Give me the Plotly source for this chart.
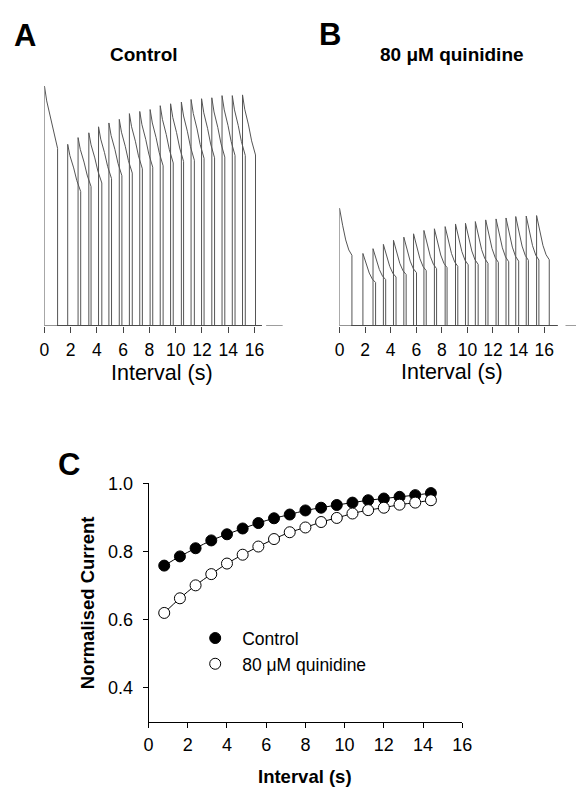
import plotly.graph_objects as go

W, H = 586, 787
FONT = "Liberation Sans, Arial, sans-serif"


def fx(p):
    return p / W


def fy(p):
    return 1 - p / H


# ---------------- Panels A / B : current traces (relative to control P1 peak) -------------
# Control (panel A)
ctrl_p1_peak = 1.0
ctrl_p1_duration = 1.0
ctrl_p2_start = [1.77, 2.56, 3.38, 4.12, 4.91, 5.70, 6.47, 7.26, 8.05,
                 8.82, 9.61, 10.43, 11.17, 11.97, 12.75, 13.53, 14.31, 15.09]
ctrl_p2_peak = [0.757, 0.785, 0.805, 0.830, 0.846, 0.861, 0.885, 0.894, 0.902,
                0.918, 0.926, 0.933, 0.944, 0.947, 0.951, 0.960, 0.960, 0.963]
ctrl_p2_duration = 0.99
ctrl_decay_time = [0.0, 0.17, 0.46, 0.70, 1.0]
ctrl_decay_frac = [1.0, 0.938, 0.870, 0.801, 0.74]
ctrl_sweep_end = 16.52
ctrl_tail = [16.89, 18.15]

# 80 uM quinidine (panel B)
quin_p1_peak = 0.491
quin_p1_duration = 0.97
quin_p2_start = [1.83, 2.62, 3.43, 4.22, 5.03, 5.79, 6.60, 7.42, 8.26,
                 9.07, 9.85, 10.62, 11.43, 12.24, 13.02, 13.78, 14.60, 15.41]
quin_p2_peak = [0.302, 0.322, 0.340, 0.357, 0.370, 0.384, 0.398, 0.405, 0.414,
                0.425, 0.428, 0.435, 0.442, 0.446, 0.450, 0.456, 0.458, 0.460]
quin_p2_duration = 0.99
quin_decay_time = [0.0, 0.25, 0.50, 0.75, 1.0]
quin_decay_frac = [1.0, 0.855, 0.730, 0.645, 0.60]
quin_sweep_end = 17.02
quin_tail = [17.67, 18.70]

trace_ticks = [0, 2, 4, 6, 8, 10, 12, 14, 16]

# ---------------- Panel C : normalised current ------------------------------------------
interval_s = [0.8, 1.6, 2.4, 3.2, 4.0, 4.8, 5.6, 6.4, 7.2,
              8.0, 8.8, 9.6, 10.4, 11.2, 12.0, 12.8, 13.6, 14.4]
control_norm = [0.758, 0.785, 0.809, 0.832, 0.850, 0.867, 0.883, 0.897, 0.908,
                0.920, 0.928, 0.936, 0.943, 0.950, 0.955, 0.960, 0.965, 0.971]
quinidine_norm = [0.619, 0.662, 0.700, 0.733, 0.764, 0.790, 0.814, 0.836, 0.856,
                  0.870, 0.886, 0.898, 0.911, 0.921, 0.928, 0.937, 0.943, 0.950]
c_xticks = [0, 2, 4, 6, 8, 10, 12, 14, 16]
c_yticks = [0.4, 0.6, 0.8, 1.0]


def pulse(t0, amp, dur, dtime, dfrac):
    xs = [t0] + [t0 + f * dur for f in dtime] + [t0 + dur]
    ys = [0.0] + [amp * f for f in dfrac] + [0.0]
    return xs, ys


def build_sweeps(p1_peak, p1_dur, starts, peaks, p2_dur, dtime, dfrac, end):
    # the conditioning pulse (P1) is identical in every sweep: draw it once
    xs, ys = pulse(0.0, p1_peak, p1_dur, dtime, dfrac)
    xs, ys = [0.0] + xs, [0.0] + ys
    xs.append(None)
    ys.append(None)
    for s, a in zip(starts, peaks):
        px_, py_ = pulse(s, a, p2_dur, dtime, dfrac)
        xs += [p1_dur] + px_ + [end, None]
        ys += [0.0] + py_ + [0.0, None]
    return xs, ys


fig = go.Figure()
TRACE_COL = "#555555"

ax, ay = build_sweeps(ctrl_p1_peak, ctrl_p1_duration, ctrl_p2_start, ctrl_p2_peak,
                      ctrl_p2_duration, ctrl_decay_time, ctrl_decay_frac, ctrl_sweep_end)
fig.add_trace(go.Scatter(x=ax + ctrl_tail, y=ay + [0, 0], mode="lines",
                         line=dict(color=TRACE_COL, width=1), showlegend=False,
                         xaxis="x", yaxis="y", hoverinfo="skip"))

bx, by = build_sweeps(quin_p1_peak, quin_p1_duration, quin_p2_start, quin_p2_peak,
                      quin_p2_duration, quin_decay_time, quin_decay_frac, quin_sweep_end)
fig.add_trace(go.Scatter(x=bx + quin_tail, y=by + [0, 0], mode="lines",
                         line=dict(color=TRACE_COL, width=1), showlegend=False,
                         xaxis="x2", yaxis="y2", hoverinfo="skip"))

# Panel C: fitted lines then markers
fig.add_trace(go.Scatter(x=interval_s, y=control_norm, mode="lines", line_shape="spline",
                         line=dict(color="black", width=1), showlegend=False,
                         xaxis="x3", yaxis="y3", hoverinfo="skip"))
fig.add_trace(go.Scatter(x=interval_s, y=quinidine_norm, mode="lines", line_shape="spline",
                         line=dict(color="black", width=1), showlegend=False,
                         xaxis="x3", yaxis="y3", hoverinfo="skip"))
fig.add_trace(go.Scatter(x=interval_s, y=control_norm, mode="markers", name="Control",
                         marker=dict(symbol="circle", size=11, color="black",
                                     line=dict(color="black", width=1)),
                         xaxis="x3", yaxis="y3"))
fig.add_trace(go.Scatter(x=interval_s, y=quinidine_norm, mode="markers", name="80 μM quinidine",
                         marker=dict(symbol="circle", size=11, color="white",
                                     line=dict(color="black", width=1)),
                         xaxis="x3", yaxis="y3"))

# axis geometry (pixels)
A_x0, A_scale = 40.5, 13.47
B_x0, B_scale = 343.3, 13.125
A_right, B_right = 290.0, 586.0
base_px, top_px = 320.0, 65.0
y_top_val = (base_px - top_px) / 243.0

trace_xaxis = dict(showgrid=False, zeroline=False, showline=False, ticks="outside",
                   ticklen=6, tickwidth=1, tickcolor="#444", tickvals=trace_ticks,
                   tickfont=dict(family=FONT, size=17.5, color="black"),
                   ticklabelstandoff=2, fixedrange=True)
trace_yaxis = dict(showgrid=False, zeroline=False, showline=False, showticklabels=False,
                   ticks="", range=[0, y_top_val], domain=[fy(base_px), fy(top_px)])

fig.update_layout(
    width=W, height=H, margin=dict(l=0, r=0, t=0, b=0),
    paper_bgcolor="white", plot_bgcolor="white",
    font=dict(family=FONT, color="black"),
    xaxis=dict(trace_xaxis, domain=[fx(A_x0), fx(A_right)],
               range=[0, (A_right - A_x0) / A_scale], anchor="y"),
    yaxis=dict(trace_yaxis, anchor="x"),
    xaxis2=dict(trace_xaxis, domain=[fx(B_x0), fx(B_right)],
                range=[0, (B_right - B_x0) / B_scale], anchor="y2"),
    yaxis2=dict(trace_yaxis, anchor="x2"),
    xaxis3=dict(domain=[fx(147.3), fx(469.3)], range=[0, 16], anchor="y3",
                showgrid=False, zeroline=False, showline=True, linecolor="black", linewidth=1,
                ticks="outside", ticklen=5, tickcolor="black", tickvals=c_xticks,
                tickfont=dict(family=FONT, size=18), ticklabelstandoff=2),
    yaxis3=dict(domain=[fy(720.7), fy(479.3)], range=[0.3, 1.0], anchor="x3",
                showgrid=False, zeroline=False, showline=True, linecolor="black", linewidth=1,
                ticks="outside", ticklen=5, tickcolor="black", tickvals=c_yticks,
                tickformat=".1f", tickfont=dict(family=FONT, size=18), ticklabelstandoff=6),
    showlegend=True,
    legend=dict(x=fx(188), y=fy(618), xanchor="left", yanchor="top",
                bgcolor="rgba(0,0,0,0)", font=dict(family=FONT, size=17.5),
                itemwidth=44, tracegroupgap=0),
)

# baseline axis lines for panels A and B
fig.add_shape(type="line", xref="x", yref="y", x0=0, x1=ctrl_sweep_end, y0=0, y1=0,
              line=dict(color="#444", width=1))
fig.add_shape(type="line", xref="x2", yref="y2", x0=0, x1=quin_sweep_end, y0=0, y1=0,
              line=dict(color="#444", width=1))

annots = [
    ("<b>A</b>", 20.5, 26, 31),
    ("<b>B</b>", 334, 25, 31),
    ("<b>C</b>", 66, 460, 31),
    ("<b>Control</b>", 143, 45, 19),
    ("<b>80 μM quinidine</b>", 459, 45, 19),
    ("Interval (s)", 161.5, 368, 21.5),
    ("Interval (s)", 458.7, 366.7, 21.5),
    ("<b>Interval (s)</b>", 308, 776, 18.5),
]
for text, x, y, size in annots:
    fig.add_annotation(text=text, x=fx(x), y=fy(y), xref="paper", yref="paper",
                       showarrow=False, xanchor="center", yanchor="middle",
                       font=dict(family=FONT, size=size, color="black"))
fig.add_annotation(text="<b>Normalised Current</b>", x=fx(85), y=fy(600), xref="paper",
                   yref="paper", showarrow=False, textangle=-90, xanchor="center",
                   yanchor="middle", font=dict(family=FONT, size=18.5, color="black"))

fig.write_html("out.html")
